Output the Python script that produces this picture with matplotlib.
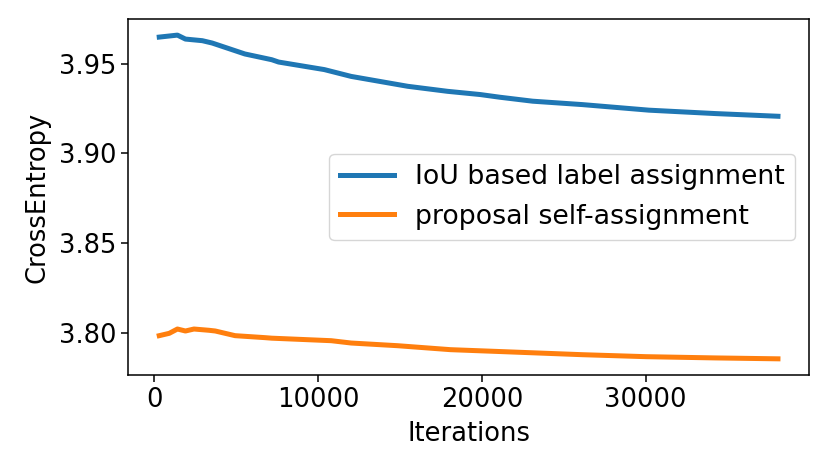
import matplotlib
matplotlib.use("Agg")
import matplotlib.pyplot as plt

iou_x = [300, 1410, 1900, 2930, 3530, 5530, 7170, 7590, 10380, 12020, 15470, 17900,
         19900, 21100, 23100, 26140, 30200, 34260, 38080]
iou_y = [3.9648, 3.9659, 3.9637, 3.9628, 3.9615, 3.9554, 3.9522, 3.9509, 3.9467, 3.9429,
         3.9374, 3.9346, 3.9328, 3.9313, 3.9291, 3.9272, 3.9241, 3.9222, 3.9207]

self_x = [300, 910, 1410, 1900, 2420, 3330, 3720, 4930, 6750, 7170, 10800, 12020, 14870,
          18080, 20690, 26140, 30020, 34260, 38080]
self_y = [3.7985, 3.7998, 3.8022, 3.8011, 3.8022, 3.8015, 3.8011, 3.7985, 3.7974, 3.7971,
          3.7957, 3.7944, 3.7929, 3.7907, 3.7898, 3.7879, 3.7868, 3.7861, 3.7856]

labels = ["IoU based label assignment", "proposal self-assignment"]

fig = plt.figure(figsize=(8.31, 4.71), dpi=100)
ax = fig.add_axes([0.1544, 0.2038, 0.819, 0.7560])
ax.plot(iou_x, iou_y, color="#1f77b4", linewidth=3.6, label=labels[0])
ax.plot(self_x, self_y, color="#ff7f0e", linewidth=3.6, label=labels[1])
ax.set_yticks([3.80, 3.85, 3.90, 3.95])
ax.set_xticks([0, 10000, 20000, 30000])
ax.tick_params(labelsize=18.5, width=1.1, length=5)
for s in ax.spines.values():
    s.set_linewidth(1.1)
ax.set_xlabel("Iterations", fontsize=18.5, labelpad=6)
ax.set_ylabel("CrossEntropy", fontsize=18.5, labelpad=6)
ax.legend(loc="center right", fontsize=19.3)
fig.savefig("out.png", dpi=100)
